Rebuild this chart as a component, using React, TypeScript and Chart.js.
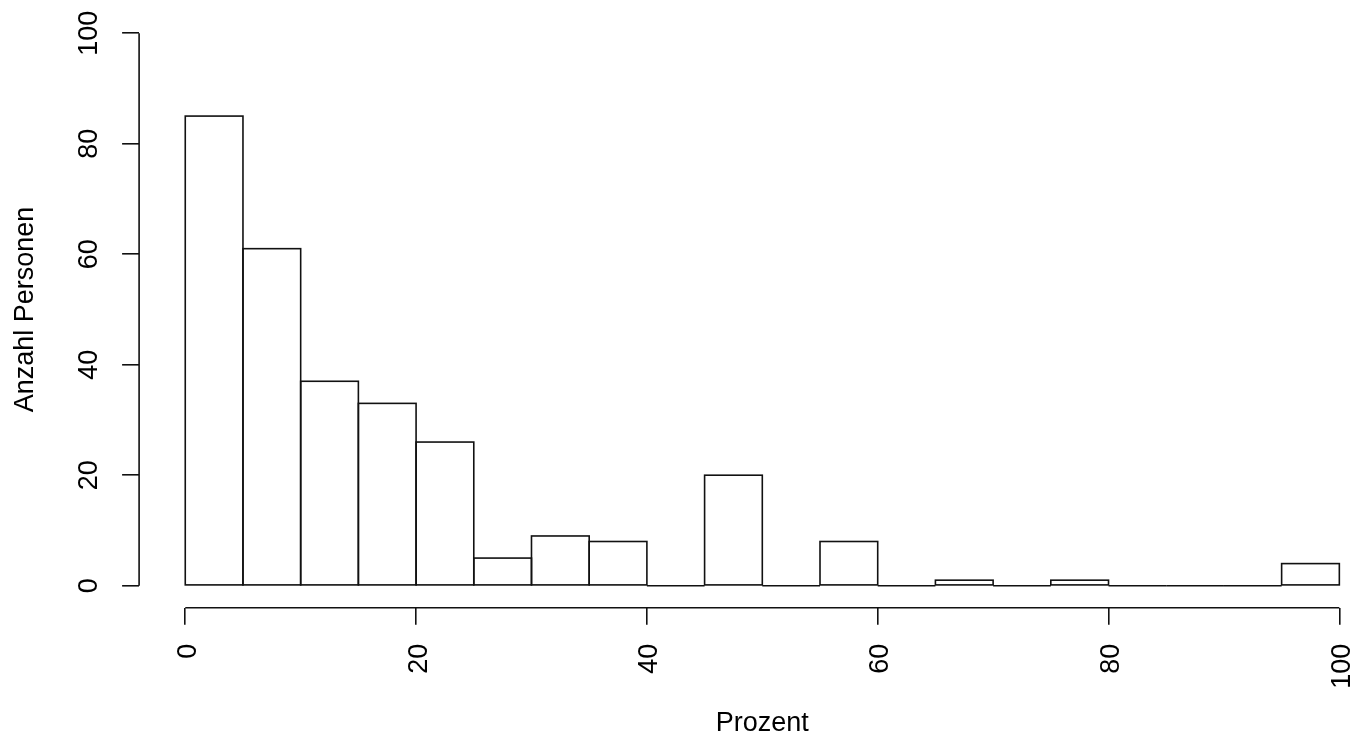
import React, { useEffect, useRef } from "react";
import { Chart, registerables } from "chart.js";

Chart.register(...registerables);

// ---- data ----
const binStart = [0, 5, 10, 15, 20, 25, 30, 35, 40, 45, 50, 55, 60, 65, 70, 75, 80, 85, 90, 95];
const binWidth = 5;
const counts = [85, 61, 37, 33, 26, 5, 9, 8, 0, 20, 0, 8, 0, 1, 0, 1, 0, 0, 0, 4];
const xTickValues = [0, 20, 40, 60, 80, 100];
const yTickValues = [0, 20, 40, 60, 80, 100];
const xTitle = "Prozent";
const yTitle = "Anzahl Personen";

// ---- styling ----
const LINE = "#111";
const LW = 1.6;
const FONT = { family: "'Liberation Sans', Arial, sans-serif", size: 27 };
const TEXT = "#000";
const CW = 1400;
const CH = 750;

const outlinePlugin = {
  id: "histOutline",
  afterDatasetsDraw(chart: any) {
    const ctx = chart.ctx;
    const meta = chart.getDatasetMeta(0);
    ctx.save();
    ctx.strokeStyle = LINE;
    ctx.lineWidth = LW;
    meta.data.forEach((el: any) => {
      const p = el.getProps(["x", "y", "base", "width"], true);
      const left = p.x - p.width / 2;
      const top = Math.min(p.y, p.base);
      ctx.strokeRect(left, top, p.width, Math.abs(p.base - p.y));
    });
    const xs = chart.scales.x;
    const ys = chart.scales.y;
    ctx.beginPath();
    ctx.moveTo(xs.getPixelForValue(xTickValues[0]), xs.top);
    ctx.lineTo(xs.getPixelForValue(xTickValues[xTickValues.length - 1]), xs.top);
    ctx.moveTo(ys.right, ys.getPixelForValue(yTickValues[0]));
    ctx.lineTo(ys.right, ys.getPixelForValue(yTickValues[yTickValues.length - 1]));
    ctx.stroke();
    ctx.restore();
  },
};

export default function App() {
  const ref = useRef<HTMLCanvasElement | null>(null);

  useEffect(() => {
    if (!ref.current) return;
    const chart = new Chart(ref.current, {
      type: "bar",
      data: {
        datasets: [
          {
            data: binStart.map((s, i) => ({ x: s + binWidth / 2, y: counts[i] })),
            backgroundColor: "rgba(0,0,0,0)",
            borderWidth: 0,
            barPercentage: 1,
            categoryPercentage: 1,
          },
        ],
      },
      options: {
        animation: false,
        responsive: false,
        devicePixelRatio: 1,
        layout: { padding: { top: 11.1, right: CW - 1385.5, left: 0, bottom: 0 } },
        plugins: { legend: { display: false }, tooltip: { enabled: false } },
        scales: {
          x: {
            type: "linear",
            offset: false,
            min: -4,
            max: 104,
            afterBuildTicks: (s: any) => {
              s.ticks = xTickValues.map((v) => ({ value: v }));
            },
            afterFit: (s: any) => {
              s.height = CH - 607.8;
              s.paddingLeft = 0;
              s.paddingRight = 0;
              s.paddingTop = 0;
              s.paddingBottom = 0;
            },
            grid: { offset: false, drawOnChartArea: false, drawTicks: true, tickLength: 17, color: LINE, lineWidth: LW },
            border: { display: false },
            ticks: {
              autoSkip: false,
              minRotation: 90,
              maxRotation: 90,
              padding: 19,
              labelOffset: 3,
              font: FONT,
              color: TEXT,
            },
            title: { display: true, text: xTitle, font: FONT, color: TEXT, padding: { top: 0, bottom: 10.2 } },
          },
          y: {
            type: "linear",
            min: -4,
            max: 104,
            afterBuildTicks: (s: any) => {
              s.ticks = yTickValues.map((v) => ({ value: v }));
            },
            afterFit: (s: any) => {
              s.width = 139.1;
              s.paddingLeft = 0;
              s.paddingRight = 0;
              s.paddingTop = 0;
              s.paddingBottom = 0;
            },
            grid: { drawOnChartArea: false, drawTicks: true, tickLength: 17, color: LINE, lineWidth: LW },
            border: { display: false },
            ticks: {
              autoSkip: false,
              minRotation: 90,
              maxRotation: 90,
              crossAlign: "center",
              padding: 9.6,
              font: FONT,
              color: TEXT,
            },
            title: { display: true, text: yTitle, font: FONT, color: TEXT, padding: { top: 9.4, bottom: 0 } },
          },
        },
      } as any,
      plugins: [outlinePlugin],
    });
    return () => chart.destroy();
  }, []);

  return (
    <div
      style={{
        position: "absolute",
        left: 0,
        top: 0,
        width: 1361,
        height: 738,
        overflow: "hidden",
        background: "#fff",
      }}
    >
      <canvas ref={ref} width={CW} height={CH} style={{ display: "block", width: CW, height: CH }} />
    </div>
  );
}
